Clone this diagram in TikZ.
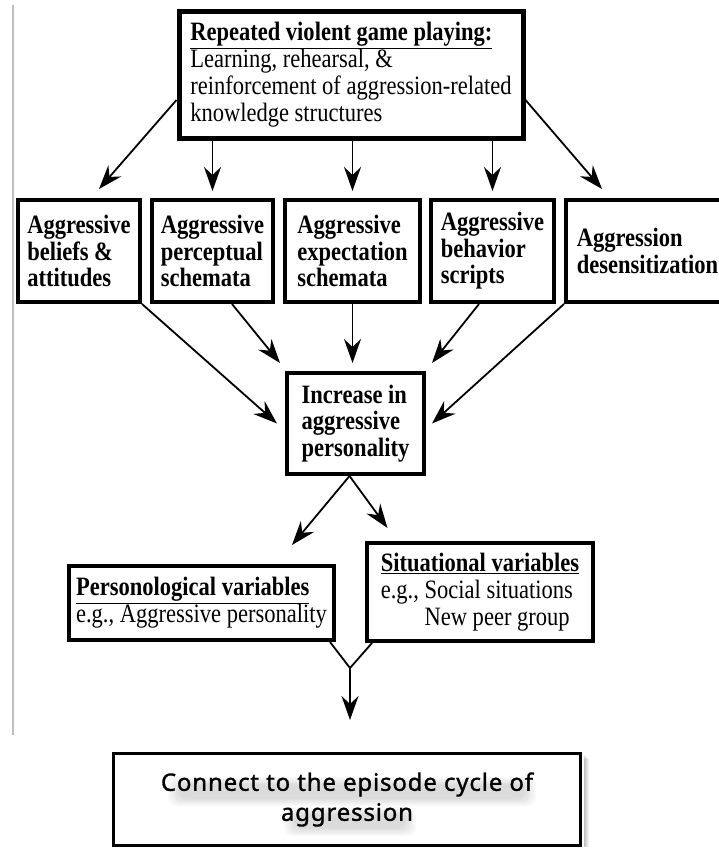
\documentclass[tikz,border=0pt]{standalone}
\usepackage{fontspec}
\setmainfont[FakeStretch=0.85]{Liberation Serif}
\newfontfamily\capfont[LetterSpace=3.5, FakeBold=1.2]{Noto Sans}
\usetikzlibrary{arrows.meta,calc}

\begin{document}
\begin{tikzpicture}[x=1pt,y=-1pt,
  box/.style={draw, line width=4pt, align=left, inner sep=0pt,
    font=\fontsize{26.5}{27}\selectfont},
  boldbox/.style={box, font=\fontsize{26.5}{26.5}\selectfont\bfseries},
  arr/.style={line width=1.8pt, -{Stealth[length=24pt,width=17pt,inset=8pt]}},
  link/.style={line width=1.8pt},
  haze/.style={fill=black, opacity=0.022, rounded corners=8pt}
]
\useasboundingbox (0,0) rectangle (718,848);
\fill[white] (0,0) rectangle (718,848);

% thin rule along the left margin
\draw[black!25, line width=1.2pt] (13,5) -- (13,735);

% source box
\node[box, line width=5pt, minimum width=344pt, minimum height=126pt] (top) at (351,75)
  {\textbf{\underline{Repeated violent game playing:}}\\Learning, rehearsal, \&\\reinforcement of aggression-related\\knowledge structures};

% knowledge structures
\node[boldbox, minimum width=122pt, minimum height=102pt] (b1) at (79,251) {Aggressive\\beliefs \&\\attitudes};
\node[boldbox, minimum width=121pt, minimum height=102pt] (b2) at (212.5,251) {Aggressive\\perceptual\\schemata};
\node[boldbox, minimum width=135pt, minimum height=102pt] (b3) at (352.5,251) {Aggressive\\expectation\\schemata};
\node[boldbox, minimum width=123pt, minimum height=102pt] (b4) at (492.5,251) {Aggressive\\behavior\\scripts};
\node[boldbox, minimum width=163pt, minimum height=102pt] (b5) at (647.5,251) {Aggression\\desensitization};

% outcome
\node[boldbox, minimum width=137pt, minimum height=101pt] (mid) at (355.5,423.5) {Increase in\\aggressive\\personality};

% input variables
\node[box, minimum width=265pt, minimum height=74pt] (pers) at (201.5,603)
  {\textbf{\underline{Personological variables}}\\e.g., Aggressive personality};
\node[box, minimum width=226pt, minimum height=98pt] (situ) at (480,592)
  {\textbf{\underline{Situational variables}}\\e.g., Social situations\\\phantom{e.g., }New peer group};

% soft haze under the caption lines and along the box's right side
\foreach \k in {0,...,5} {
  \fill[haze] (168+2*\k,777+1.5*\k) rectangle (536-2*\k,806-1.5*\k);
  \fill[haze] (284+2*\k,807+1.5*\k) rectangle (416-2*\k,836-1.5*\k);
}
\foreach \k in {1,...,5}
  \fill[black, opacity=0.05] (584,754+\k) rectangle (584+\k,847);

% link to the episode cycle
\node[draw, line width=3pt, minimum width=467pt, minimum height=92pt, align=center,
  font=\capfont\fontsize{24}{30}\selectfont] (final) at (347,799.5)
  {Connect to the episode cycle of\\aggression};

% connectors from the source box
\draw[arr] ([yshift=-25pt]top.west) -- ([xshift=20pt,yshift=9pt]b1.north);
\draw[arr] (top.south -| b2.north) -- ([yshift=7pt]b2.north);
\draw[arr] (top.south -| b3.north) -- ([yshift=7pt]b3.north);
\draw[arr] (top.south -| b4.north) -- ([yshift=7pt]b4.north);
\draw[arr] ([yshift=-25pt]top.east) -- ([xshift=-45.5pt,yshift=9pt]b5.north);

% converging on the outcome
\draw[arr] (b1.south east) -- ([xshift=-8pt]mid.west);
\draw[arr] ([xshift=19.5pt]b2.south) -- ([xshift=-5pt,yshift=8pt]mid.north west);
\draw[arr] (b3.south) -- ($(b3.south |- mid.north)+(0,-8)$);
\draw[arr] ([xshift=-13.5pt]b4.south) -- ([xshift=6pt,yshift=8pt]mid.north east);
\draw[arr] (b5.south west) -- ([xshift=6pt]mid.east);

% split into the two variable groups
\coordinate (split) at ([xshift=-6pt]mid.south);
\draw[arr] (split) -- ([xshift=-44pt,yshift=19pt]pers.north east);
\draw[arr] (split) -- ([xshift=22.5pt,yshift=13pt]situ.north west);

% merge and continue
\coordinate (join) at (350,668);
\draw[link] ([xshift=-6pt]pers.south east) -- (join) -- ([xshift=7pt]situ.south west);
\draw[arr] (join) -- ($(join |- final.north)+(0,-32)$);
\end{tikzpicture}
\end{document}
